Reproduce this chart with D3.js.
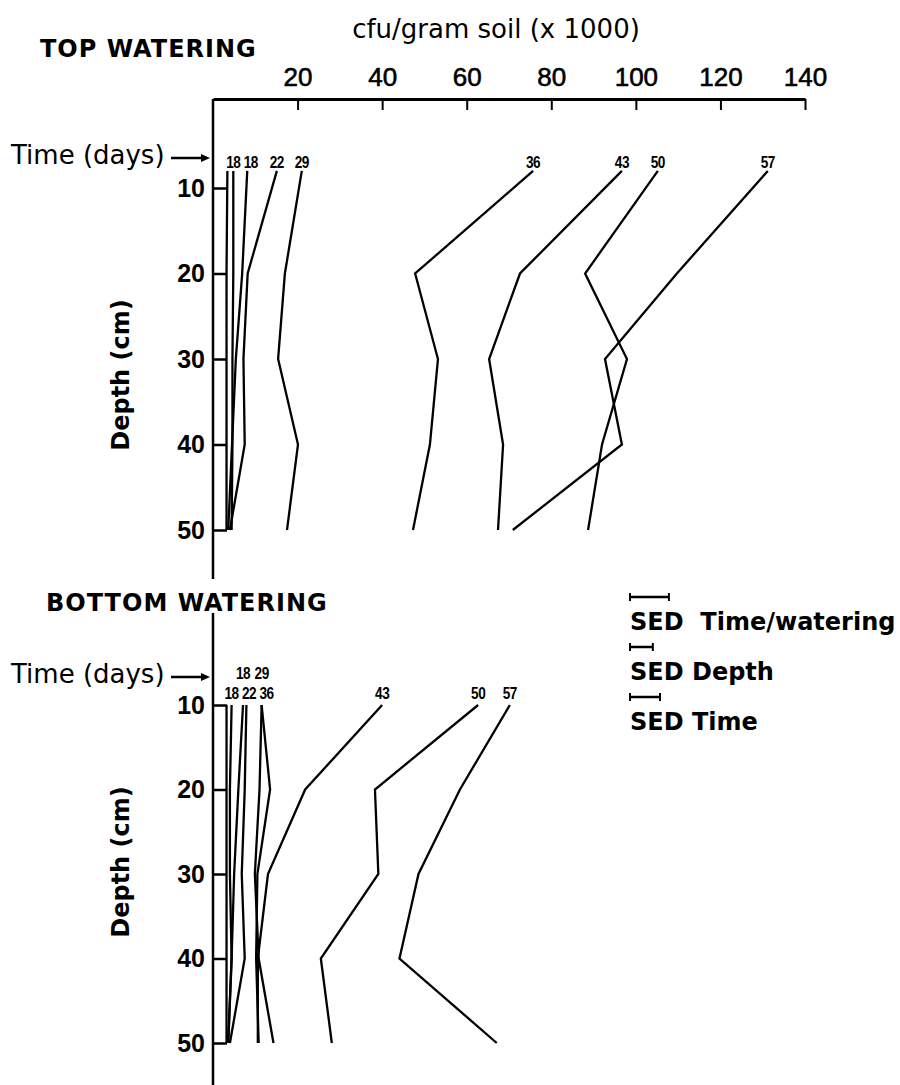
<!DOCTYPE html>
<html>
<head>
<meta charset="utf-8">
<script src="https://cdn.jsdelivr.net/npm/d3@7"></script>
<style>
  html, body { margin: 0; padding: 0; background: #fff; }
  svg { display: block; }
  text { font-family: "Liberation Sans", Arial, sans-serif; fill: #000; }
  .wide { font-family: "DejaVu Sans", "Liberation Sans", sans-serif; }
</style>
</head>
<body>
<svg id="chart" width="900" height="1085"></svg>
<script>
// Colony counts (cfu/gram soil x 1000) by soil depth, one profile per sampling day
const topDepths = [8, 20, 30, 40, 50];
const bottomDepths = [10, 20, 30, 40, 50];
const depthTicks = [10, 20, 30, 40, 50];
const cfuTicks = [20, 40, 60, 80, 100, 120, 140];

// Top watering profiles (first profile is the unlabelled baseline)
const topLabels = [null, "18", "18", "22", "29", "36", "43", "50", "57"];
const topValues = [
  [3.4, 3.2, 3.2, 3.2, 3.2],
  [4.8, 4.8, 4.6, 4.6, 4.4],
  [8.1, 6.9, 5.4, 4.5, 3.6],
  [15.1, 8.2, 7.2, 7.5, 4.0],
  [21.0, 17.0, 15.4, 20.1, 17.5],
  [75.7, 47.8, 53.2, 51.3, 47.3],
  [96.7, 72.6, 65.3, 68.6, 67.4],
  [105.2, 88.0, 97.9, 92.0, 88.7],
  [131.2, 109.7, 92.7, 96.7, 70.9]
];

// Bottom watering profiles
const bottomLabels = [null, "18", "18", "22", "29", "36", "43", "50", "57"];
const bottomLabelTier = [0, 0, 1, 0, 1, 0, 0, 0, 0];
const bottomValues = [
  [3.2, 3.2, 3.2, 3.2, 3.2],
  [4.4, 4.0, 4.0, 4.4, 3.6],
  [7.1, 6.0, 5.0, 4.4, 3.6],
  [7.9, 7.5, 6.8, 7.5, 4.0],
  [11.5, 13.5, 10.5, 10.2, 10.8],
  [11.5, 11.0, 9.9, 10.8, 14.3],
  [40.0, 21.8, 13.0, 10.6, 10.6],
  [62.7, 38.3, 39.1, 25.5, 28.1],
  [70.2, 58.4, 48.6, 44.1, 67.1]
];

// Standard errors of difference, in cfu units
const sedLabels = ["SED  Time/watering", "SED Depth", "SED Time"];
const sedValues = [9.2, 5.4, 7.1];

const svg = d3.select("#chart");

const x = d3.scaleLinear().domain([0, 140]).range([213, 805]);
const yTop = d3.scaleLinear().domain([10, 50]).range([188, 530]);
const yBot = d3.scaleLinear().domain([10, 50]).range([705, 1043]);

const axisTopY = 99;
const x0 = x(0);

// horizontal value axis along the top
const gx = svg.append("g")
  .attr("transform", `translate(0,${axisTopY})`)
  .call(d3.axisTop(x).tickValues(cfuTicks).tickSizeInner(-11).tickSizeOuter(0).tickPadding(13));
gx.select(".domain").attr("stroke-width", 3);
gx.selectAll(".tick line").attr("stroke-width", 2);
gx.selectAll(".tick text")
  .style("font-size", "26px").style("font-family", "Liberation Sans, Arial, sans-serif")
  .attr("stroke", "#000").attr("stroke-width", 0.6);

svg.append("text")
  .attr("class", "wide")
  .attr("x", 496).attr("y", 38)
  .attr("text-anchor", "middle")
  .style("font-size", "26px")
  .text("cfu/gram soil (x 1000)");

// vertical axis, broken where the lower heading crosses it
[[axisTopY, 579], [613, 1085]].forEach(([a, b]) => {
  svg.append("line")
    .attr("x1", x0).attr("x2", x0).attr("y1", a).attr("y2", b)
    .attr("stroke", "#000").attr("stroke-width", 2.5);
});

function depthAxis(scale) {
  const g = svg.append("g")
    .attr("transform", `translate(${x0},0)`)
    .call(d3.axisLeft(scale).tickValues(depthTicks).tickSizeInner(-14).tickSizeOuter(0).tickPadding(8));
  g.select(".domain").remove();
  g.selectAll(".tick line").attr("stroke-width", 2.5);
  g.selectAll(".tick text")
    .style("font-size", "25px").style("font-family", "Liberation Sans, Arial, sans-serif")
    .attr("font-weight", "bold");
}
depthAxis(yTop);
depthAxis(yBot);

function depthTitle(cy) {
  svg.append("text")
    .attr("class", "wide")
    .attr("transform", `translate(129,${cy}) rotate(-90)`)
    .attr("text-anchor", "middle")
    .style("font-size", "24px").attr("font-weight", "bold")
    .text("Depth (cm)");
}
depthTitle(375);
depthTitle(862);

function heading(txt, px, py) {
  svg.append("text")
    .attr("class", "wide")
    .attr("x", px).attr("y", py)
    .style("font-size", "24px").attr("font-weight", "bold")
    .style("letter-spacing", "1px")
    .text(txt);
}
heading("TOP WATERING", 40, 57);
heading("BOTTOM WATERING", 46, 611);

function timeMarker(py) {
  svg.append("text")
    .attr("class", "wide")
    .attr("x", 11).attr("y", py + 7)
    .style("font-size", "26px")
    .text("Time (days)");
  svg.append("line")
    .attr("x1", 171).attr("x2", 202).attr("y1", py + 1).attr("y2", py + 1)
    .attr("stroke", "#000").attr("stroke-width", 2.5);
  svg.append("path")
    .attr("d", `M201,${py - 3} L210,${py + 1} L201,${py + 5} Z`)
    .attr("fill", "#000");
}
timeMarker(157);
timeMarker(676);

const line = (scale, depths) => d3.line()
  .x(d => x(d))
  .y((d, i) => scale(depths[i]));

const labelWidth = 15;
const labelGap = 2.5;

// keep day labels in the same row from overlapping by nudging them right
function placeLabels(items) {
  const rows = d3.group(items, d => d.tier);
  for (const row of rows.values()) {
    row.sort((a, b) => a.cx - b.cx);
    let edge = -Infinity;
    row.forEach(d => {
      d.cx = Math.max(d.cx, edge + labelGap + labelWidth / 2);
      edge = d.cx + labelWidth / 2;
    });
  }
  return items;
}

function profiles(values, labels, scale, depths, tiers, labelY) {
  const g = svg.append("g");
  g.selectAll("path")
    .data(values)
    .join("path")
    .attr("d", line(scale, depths))
    .attr("fill", "none")
    .attr("stroke", "#000")
    .attr("stroke-width", 2.3)
    .attr("stroke-linejoin", "miter");
  const items = placeLabels(values
    .map((v, i) => ({ cx: x(v[0]), label: labels[i], tier: tiers ? tiers[i] : 0 }))
    .filter(d => d.label));
  g.selectAll("text")
    .data(items)
    .join("text")
    .attr("transform", d => `translate(${d.cx},${labelY - d.tier * 20}) scale(0.85,1)`)
    .attr("text-anchor", "middle")
    .style("font-size", "16px").attr("font-weight", "bold")
    .style("letter-spacing", "-0.5px")
    .text(d => d.label);
}
profiles(topValues, topLabels, yTop, topDepths, null, 168);
profiles(bottomValues, bottomLabels, yBot, bottomDepths, bottomLabelTier, 699);

// SED bars with end caps
const legend = svg.append("g").attr("transform", "translate(630,0)");
sedValues.forEach((v, i) => {
  const by = 597 + i * 50;
  const w = x(v) - x0;
  legend.append("line").attr("x1", 0).attr("x2", w).attr("y1", by).attr("y2", by)
    .attr("stroke", "#000").attr("stroke-width", 2.5);
  [0, w].forEach(cx => legend.append("line")
    .attr("x1", cx).attr("x2", cx).attr("y1", by - 4).attr("y2", by + 4)
    .attr("stroke", "#000").attr("stroke-width", 2));
  legend.append("text")
    .attr("class", "wide")
    .attr("x", 0).attr("y", by + 33)
    .style("font-size", "24px").attr("font-weight", "bold")
    .attr("xml:space", "preserve")
    .style("white-space", "pre")
    .text(sedLabels[i]);
});
</script>
</body>
</html>
